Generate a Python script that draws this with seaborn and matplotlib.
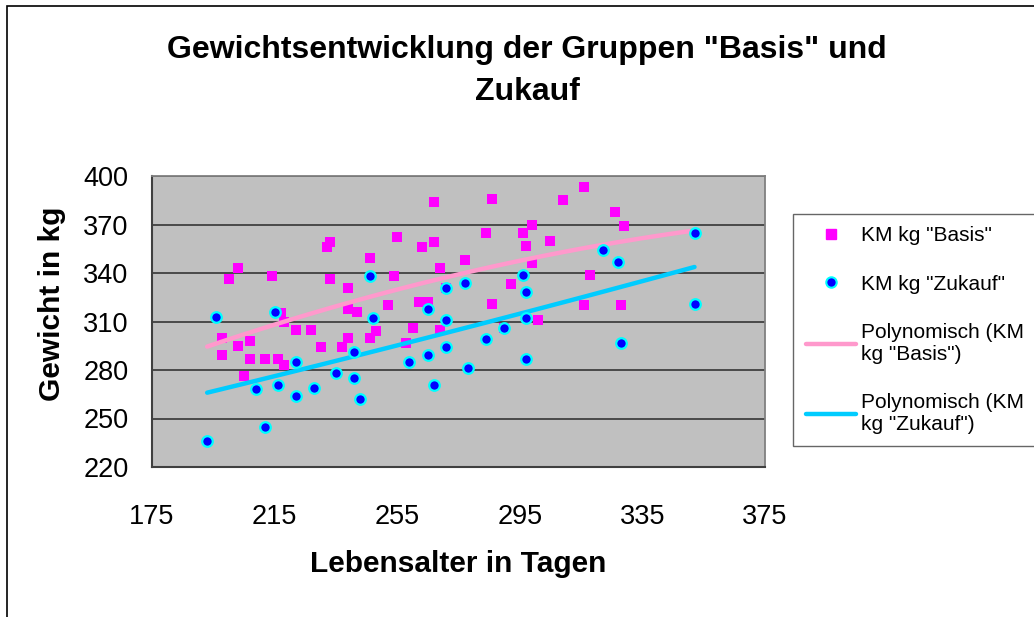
import numpy as np
import pandas as pd
import matplotlib
matplotlib.use("Agg")
import matplotlib.pyplot as plt
import seaborn as sns
from matplotlib.lines import Line2D
from matplotlib.patches import Rectangle


# Lebensalter (Tage) und Gewicht (kg), Gruppe "Basis"
basis_tage = [198, 198, 200, 203, 203, 205, 207, 207, 212, 214, 216, 217, 218, 218, 222,
              227, 230, 232, 233, 233, 237, 239, 239, 239, 242, 246, 246, 248, 252, 254,
              255, 258, 260, 262, 263, 265, 267, 267, 269, 269, 271, 277, 284, 286, 286,
              290, 292, 296, 297, 299, 299, 301, 305, 309, 316, 316, 318, 326, 328, 329]
basis_kg = [300, 289, 336, 343, 295, 276, 287, 298, 287, 338, 287, 315, 283, 310, 305,
            305, 294, 356, 359, 336, 294, 331, 318, 300, 316, 349, 300, 304, 320, 338,
            362, 297, 306, 322, 356, 322, 384, 359, 343, 305, 331, 348, 365, 386, 321,
            306, 333, 365, 357, 370, 346, 311, 360, 385, 393, 320, 339, 378, 320, 369]

# Gruppe "Zukauf"
zukauf_tage = [193, 196, 209, 212, 215, 216, 222, 222, 228, 235, 241, 241, 243, 246, 247,
               259, 265, 265, 267, 271, 271, 271, 277, 278, 284, 290, 296, 297, 297, 297,
               322, 327, 328, 352, 352]
zukauf_kg = [236, 313, 268, 245, 316, 271, 285, 264, 269, 278, 291, 275, 262, 338, 312,
             285, 318, 289, 271, 331, 311, 294, 334, 281, 299, 306, 339, 328, 312, 287,
             354, 347, 297, 365, 321]

x_ticks = [175, 215, 255, 295, 335, 375]
y_ticks = [220, 250, 280, 310, 340, 370, 400]

c_basis = "#FF00FF"
c_zuk = "#0000FF"
c_zuk_edge = "#00FFFF"
c_trend_b = "#FF99CC"
c_trend_z = "#00CCFF"

basis = pd.DataFrame({"tage": basis_tage, "kg": basis_kg})
zukauf = pd.DataFrame({"tage": zukauf_tage, "kg": zukauf_kg})

sns.set_theme(style="white")
plt.rcParams["font.family"] = ["Liberation Sans", "DejaVu Sans"]
plt.rcParams["text.color"] = "black"
plt.rcParams["axes.labelcolor"] = "black"

fig = plt.figure(figsize=(10.34, 6.17), dpi=100)
ax = fig.add_axes([152 / 1034, 1 - 467 / 617, 613 / 1034, 291 / 617])
ax.set_facecolor("#C0C0C0")

# polynomial trend (order 2), like the Excel trendline
x_lo = min(basis.tage.min(), zukauf.tage.min())
x_hi = max(basis.tage.max(), zukauf.tage.max())
xs = np.linspace(x_lo, x_hi, 120)
fit_b = np.polyval(np.polyfit(basis.tage, basis.kg, 2), xs)
fit_z = np.polyval(np.polyfit(zukauf.tage, zukauf.kg, 2), xs)

sns.scatterplot(data=basis, x="tage", y="kg", marker="s", s=55, color=c_basis,
                edgecolor=c_basis, linewidth=0, ax=ax, zorder=3)
sns.lineplot(x=xs, y=fit_b, color=c_trend_b, linewidth=3.2, ax=ax, zorder=4)
sns.lineplot(x=xs, y=fit_z, color=c_trend_z, linewidth=3.2, ax=ax, zorder=4)
sns.scatterplot(data=zukauf, x="tage", y="kg", marker="o", s=58, color=c_zuk,
                edgecolor=c_zuk_edge, linewidth=1.6, ax=ax, zorder=5)

ax.set_xlim(175, 375)
ax.set_ylim(220, 400)
ax.set_xticks(x_ticks)
ax.set_yticks(y_ticks)
ax.yaxis.grid(True, color="#404040", linewidth=1.3)
ax.xaxis.grid(False)
ax.set_axisbelow(True)

for s in ["top", "right"]:
    ax.spines[s].set_color("#808080")
    ax.spines[s].set_linewidth(1.3)
for s in ["left", "bottom"]:
    ax.spines[s].set_color("#404040")
    ax.spines[s].set_linewidth(1.5)

ax.tick_params(axis="both", direction="out", length=7, width=1.2, color="#404040",
               labelsize=19.5, labelcolor="black")
ax.tick_params(axis="x", pad=20)
ax.tick_params(axis="y", pad=10)

ax.set_xlabel("Lebensalter in Tagen", fontsize=21.5, fontweight="bold")
ax.set_ylabel("Gewicht in kg", fontsize=21.5, fontweight="bold")
ax.xaxis.set_label_coords(0.5, -0.285)
ax.yaxis.set_label_coords(-0.14, 0.56)

fig.text(527 / 1034, 1 - 50 / 617, 'Gewichtsentwicklung der Gruppen "Basis" und',
         ha="center", va="center", fontsize=23, fontweight="bold")
fig.text(527 / 1034, 1 - 92 / 617, "Zukauf",
         ha="center", va="center", fontsize=23, fontweight="bold")

handles = [
    Line2D([], [], linestyle="none", marker="s", markersize=7, color=c_basis),
    Line2D([], [], linestyle="none", marker="o", markersize=7.5, markerfacecolor=c_zuk,
           markeredgecolor=c_zuk_edge, markeredgewidth=1.5),
    Line2D([], [], color=c_trend_b, linewidth=3.2),
    Line2D([], [], color=c_trend_z, linewidth=3.2),
]
labels = ['KM kg "Basis"', 'KM kg "Zukauf"',
          'Polynomisch (KM\nkg "Basis")', 'Polynomisch (KM\nkg "Zukauf")']
leg = fig.legend(handles, labels, loc="upper left",
                 bbox_to_anchor=(793 / 1034, 1 - 214 / 617), fontsize=15,
                 frameon=True, fancybox=False, edgecolor="#404040", facecolor="white",
                 handlelength=2.4, handletextpad=0.25, labelspacing=1.4,
                 borderpad=0.6, borderaxespad=0)
leg.get_frame().set_linewidth(1.0)

# outer chart border (cut off at the right and bottom)
fig.patches.append(Rectangle((7 / 1034, -0.1), 1.2, 1 - 6 / 617 + 0.1,
                             transform=fig.transFigure, fill=False,
                             edgecolor="black", linewidth=1.2))

fig.savefig("out.png", dpi=100)
